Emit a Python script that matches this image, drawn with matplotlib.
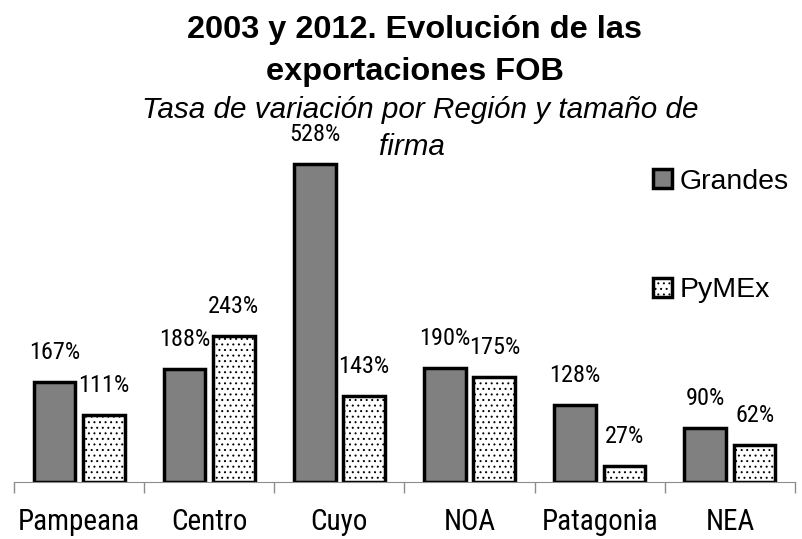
import matplotlib.pyplot as plt
import numpy as np

regiones = ["Pampeana", "Centro", "Cuyo", "NOA", "Patagonia", "NEA"]
grandes = [167, 188, 528, 190, 128, 90]
pymex = [111, 243, 143, 175, 27, 62]

narrow = ["Roboto Condensed", "Liberation Sans", "DejaVu Sans"]
plt.rcParams["font.family"] = ["Liberation Sans", "DejaVu Sans"]
plt.rcParams["hatch.linewidth"] = 0.7

fig = plt.figure(figsize=(8.03, 5.39), dpi=100)
ax = fig.add_axes([14 / 803, 1 - 482 / 539, 781 / 803, 361 / 539])
ax.patch.set_alpha(0)

x = np.arange(len(regiones))
w = 0.32
off = 0.19
ax.bar(x - off, grandes, w, color="#808080", edgecolor="black", linewidth=2.5, label="Grandes")
ax.bar(x + off, pymex, w, color="white", edgecolor="black", linewidth=2.5, hatch="...", label="PyMEx")

# etiquetas ~23 px sobre cada barra
for xs, vals in [(x - off, grandes), (x + off, pymex)]:
    for xi, v in zip(xs, vals):
        ax.annotate(f"{v}%", (xi, v), xytext=(0, 23 * 0.72), textcoords="offset points",
                    ha="center", va="baseline", fontsize=17.5, family=narrow)

ax.set_xlim(-0.5, 5.5)
ax.set_ylim(0, 600)
for s in ["top", "right", "left"]:
    ax.spines[s].set_visible(False)
ax.spines["bottom"].set_color("#8c8c8c")
ax.set_yticks([])
ax.set_xticks(x)
ax.set_xticklabels(regiones, fontsize=21, family=narrow)
ax.tick_params(axis="x", which="major", length=0, pad=19)
ax.set_xticks(np.arange(-0.5, 6, 1), minor=True)
ax.tick_params(axis="x", which="minor", length=8, color="#8c8c8c", width=1)

ax.legend(loc="center left", bbox_to_anchor=(653 / 803, 1 - 236 / 539),
          bbox_transform=fig.transFigure, frameon=False, borderpad=0, borderaxespad=0,
          fontsize=20.5, labelspacing=2.9, handlelength=0.67, handleheight=0.67,
          handletextpad=0.28)

fig.text(415 / 803, 1 - 38 / 539, "2003 y 2012. Evolución de las", ha="center", va="baseline",
         fontsize=23.4, fontweight="bold")
fig.text(415 / 803, 1 - 80 / 539, "exportaciones FOB", ha="center", va="baseline",
         fontsize=23.4, fontweight="bold")
fig.text(420 / 803, 1 - 118 / 539, "Tasa de variación por Región y tamaño de", ha="center",
         va="baseline", fontsize=21.3, style="italic")
fig.text(412 / 803, 1 - 155 / 539, "firma", ha="center", va="baseline", fontsize=21.3,
         style="italic")

fig.savefig("out.png", dpi=100)
